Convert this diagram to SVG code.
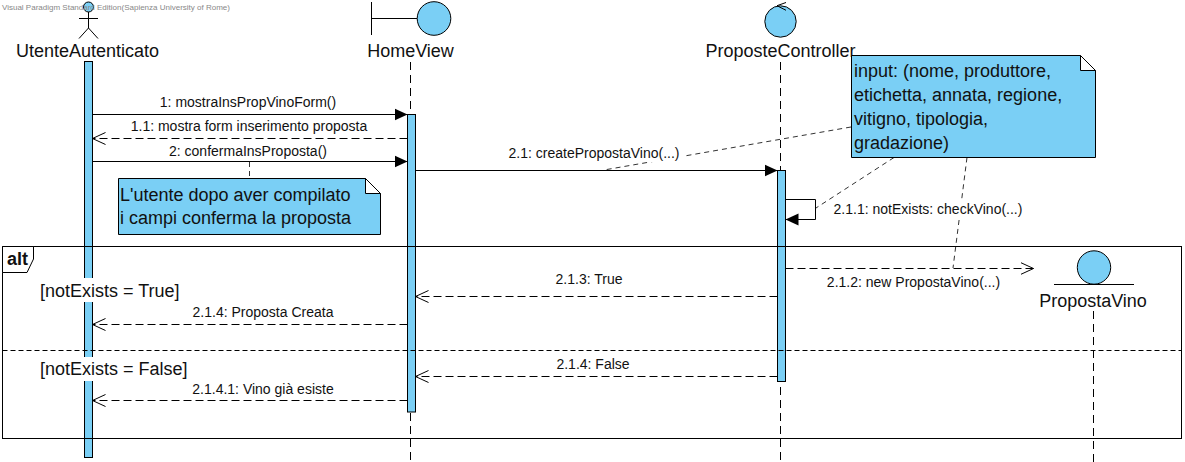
<svg xmlns="http://www.w3.org/2000/svg" width="1185" height="462" viewBox="0 0 1185 462">
<style>
text{font-family:"Liberation Sans",Arial,sans-serif;fill:#111}
.f{fill:#7acff5;stroke:#000;stroke-width:1}
.n{fill:none;stroke:#000;stroke-width:1}
.life{fill:none;stroke:#000;stroke-width:1;stroke-dasharray:8 5}
.msg{fill:none;stroke:#000;stroke-width:1}
.ret{fill:none;stroke:#000;stroke-width:1;stroke-dasharray:8 4;marker-end:url(#open)}
.syn{marker-end:url(#solid)}
.anc{fill:none;stroke:#333;stroke-width:1;stroke-dasharray:5 4}
.name{font-size:18px;text-anchor:middle}
.lbl{font-size:14px;text-anchor:middle}
.note{font-size:18px}
.guard{font-size:18px}
</style>
<defs>
<marker id="solid" markerUnits="userSpaceOnUse" markerWidth="14" markerHeight="14" refX="13" refY="7" orient="auto"><path d="M0 1L13 7L0 13Z" fill="#000"/></marker>
<marker id="open" markerUnits="userSpaceOnUse" markerWidth="14" markerHeight="14" refX="13" refY="7" orient="auto"><path d="M0 1L13 7L0 13" fill="none" stroke="#000"/></marker>
</defs>
<g id="lifelines">
<line class="life" x1="410.5" y1="62" x2="410.5" y2="462"/>
<line class="life" x1="780.5" y1="62" x2="780.5" y2="462"/>
<line class="life" x1="1093.5" y1="311" x2="1093.5" y2="462"/>
</g>
<g id="UtenteAutenticato">
<circle class="f" cx="88.5" cy="7" r="5"/>
<path class="n" d="M88.5 12V28M79 18.500H98M79 38.500L88.500 28L98 38.500"/>
<text class="name" x="87.500" y="57">UtenteAutenticato</text>
<rect class="f" x="84.500" y="61.500" width="8" height="396"/>
</g>
<g id="HomeView">
<path class="n" d="M371.500 2V35M371.500 18.500H417"/>
<circle class="f" cx="434" cy="18.500" r="16.800"/>
<text class="name" x="410.500" y="57">HomeView</text>
<rect class="f" x="407.500" y="114.500" width="8" height="297.500"/>
</g>
<g id="PropostaController">
<circle class="f" cx="780.500" cy="21.500" r="15.700"/>
<path class="n" d="M786 2.500L777 5.700L786 10.300"/>
<text class="name" x="780.500" y="57">ProposteController</text>
<rect class="f" x="777.500" y="170.500" width="8" height="211"/>
</g>
<g id="PropostaVino">
<circle class="f" cx="1094" cy="267.500" r="16.700"/>
<line class="n" x1="1054" y1="284.500" x2="1134" y2="284.500"/>
<text class="name" x="1093" y="307">PropostaVino</text>
</g>
<g id="connectors">
<line class="anc" x1="851" y1="127" x2="604" y2="170"/>
<line class="anc" x1="894" y1="157.500" x2="816" y2="208"/>
<line class="anc" x1="967" y1="157.500" x2="953" y2="268"/>
<line class="anc" x1="249.500" y1="162" x2="249.500" y2="178"/>
<line class="msg syn" x1="92.500" y1="114.500" x2="407.500" y2="114.500"/>
<line class="ret" x1="407.500" y1="138.500" x2="92.500" y2="138.500"/>
<line class="msg syn" x1="92.500" y1="161.500" x2="407.500" y2="161.500"/>
<line class="msg syn" x1="415.500" y1="170.500" x2="777.500" y2="170.500"/>
<path class="msg syn" d="M785.500 199.500H815.500V219.500H785.500"/>
<line class="ret" x1="785.500" y1="268.500" x2="1033.500" y2="268.500"/>
<line class="ret" x1="777.500" y1="296.500" x2="415.500" y2="296.500"/>
<line class="ret" x1="407.500" y1="324.500" x2="92.500" y2="324.500"/>
<line class="ret" x1="777.500" y1="376.500" x2="415.500" y2="376.500"/>
<line class="ret" x1="407.500" y1="400.500" x2="92.500" y2="400.500"/>
</g>
<g id="message-labels">
<text class="lbl" x="248" y="107">1: mostraInsPropVinoForm()</text>
<text class="lbl" x="249" y="131">1.1: mostra form inserimento proposta</text>
<text class="lbl" x="248" y="156">2: confermaInsProposta()</text>
<rect x="504" y="146" width="180" height="16" fill="#fff"/>
<text class="lbl" x="594" y="158">2.1: createPropostaVino(...)</text>
<rect x="833" y="201" width="190" height="17" fill="#fff"/>
<text class="lbl" x="928" y="214">2.1.1: notExists: checkVino(...)</text>
<text class="lbl" x="913.500" y="287">2.1.2: new PropostaVino(...)</text>
<text class="lbl" x="589" y="284">2.1.3: True</text>
<text class="lbl" x="263" y="317">2.1.4: Proposta Creata</text>
<text class="lbl" x="593" y="369">2.1.4: False</text>
<text class="lbl" x="263" y="394">2.1.4.1: Vino già esiste</text>
</g>
<g id="note-conferma">
<path class="f" d="M118.500 178.500H365.500L380.500 193.500V234.500H118.500Z"/>
<path d="M365.500 178.500L380.500 193.500H365.500Z" fill="#fff" stroke="#000"/>
<text class="note" x="120" y="201">L'utente dopo aver compilato</text>
<text class="note" x="120" y="224">i campi conferma la proposta</text>
</g>
<g id="note-input">
<path class="f" d="M851.500 55.500H1080.500L1095.500 70.500V157.500H851.500Z"/>
<path d="M1080.500 55.500L1095.500 70.500H1080.500Z" fill="#fff" stroke="#000"/>
<text class="note" x="854" y="77">input: (nome, produttore,</text>
<text class="note" x="854" y="101">etichetta, annata, regione,</text>
<text class="note" x="854" y="125">vitigno, tipologia,</text>
<text class="note" x="854" y="149">gradazione)</text>
</g>
<g id="frame-alt">
<rect class="n" x="2.500" y="246.500" width="1179" height="192"/>
<path d="M2.500 246.500H33.500V259L27 272.500H2.500Z" fill="#fff" stroke="#000"/>
<text x="7" y="265" font-size="18" font-weight="700">alt</text>
<line x1="2.500" y1="350.500" x2="1181.500" y2="350.500" stroke="#000" stroke-dasharray="5 3"/>
<rect x="40" y="278" width="142" height="24" fill="#fff"/>
<text class="guard" x="40" y="297">[notExists = True]</text>
<rect x="40" y="357" width="149" height="24" fill="#fff"/>
<text class="guard" x="40" y="375">[notExists = False]</text>
</g>
<text x="2" y="10" font-size="8" style="fill:#888">Visual Paradigm Standard Edition(Sapienza University of Rome)</text>
</svg>
